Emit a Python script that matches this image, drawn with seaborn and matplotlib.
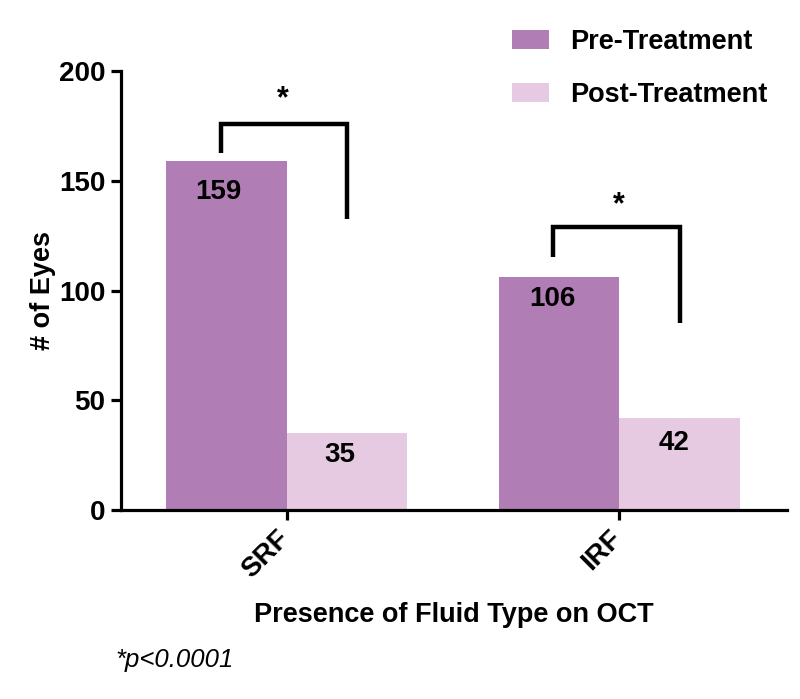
import pandas as pd
import numpy as np
import matplotlib
matplotlib.use("Agg")
import matplotlib.pyplot as plt
import matplotlib.transforms as mtransforms
import seaborn as sns

fluid_types = ["SRF", "IRF"]
groups = ["Pre-Treatment", "Post-Treatment"]
pre_treatment = [159, 106]
post_treatment = [35, 42]
y_ticks = [0, 50, 100, 150, 200]

PRE_COLOR = "#B07EB5"
POST_COLOR = "#E6CAE2"

df = pd.DataFrame({
    "Fluid": fluid_types * 2,
    "Group": [groups[0]] * 2 + [groups[1]] * 2,
    "Eyes": pre_treatment + post_treatment,
})

sns.set_style("ticks")
plt.rcParams["font.family"] = ["Liberation Sans", "DejaVu Sans"]
plt.rcParams["font.weight"] = "bold"
plt.rcParams["text.color"] = "black"
plt.rcParams["axes.labelcolor"] = "black"
plt.rcParams["xtick.color"] = "black"
plt.rcParams["ytick.color"] = "black"
plt.rcParams["axes.edgecolor"] = "black"

fig = plt.figure(figsize=(8, 6.99), dpi=100)
ax = fig.add_axes([0.151, 0.2704, 0.833, 0.628])

sns.barplot(data=df, x="Fluid", y="Eyes", hue="Group",
            palette=[PRE_COLOR, POST_COLOR], saturation=1,
            width=0.725, ax=ax, legend=True, linewidth=0,
            edgecolor="none")

# value labels inside bars
label_offsets = [(-0.205, 145), (0.16, 25), (-0.2, 96), (0.166, 30.5)]
values = [pre_treatment[0], post_treatment[0], pre_treatment[1], post_treatment[1]]
centers = [0, 0, 1, 1]
for c, (dx, y), v in zip(centers, label_offsets, values):
    ax.text(c + dx, y, str(v), ha="center", va="center",
            fontsize=20, fontweight="bold")

# significance brackets
brackets = [
    # x_left, x_right, y_top, y_left_bottom, y_right_bottom, star_x, star_y
    (-0.199, 0.181, 176, 162.6, 132.6, -0.012, 187),
    (0.801, 1.184, 129, 115.3, 85.2, 1.0, 139),
]
for xl, xr, yt, ylb, yrb, sx, sy in brackets:
    ax.plot([xl, xl, xr, xr], [ylb, yt, yt, yrb], color="black",
            lw=3.2, solid_joinstyle="miter", solid_capstyle="butt")
    ax.text(sx, sy, "*", ha="center", va="center", fontsize=22,
            fontweight="bold")

ax.set_xlim(-0.5, 1.506)
ax.set_ylim(0, 200)
ax.set_yticks(y_ticks)
sns.despine(ax=ax)
for s in ["left", "bottom"]:
    ax.spines[s].set_linewidth(2.3)
ax.tick_params(axis="both", width=2.3, length=7, labelsize=20, pad=4,
               bottom=True, left=True)
shift = mtransforms.ScaledTranslation(8 / 100, 0, fig.dpi_scale_trans)
for lbl in ax.get_xticklabels():
    lbl.set_rotation(45)
    lbl.set_ha("right")
    lbl.set_fontweight("bold")
    lbl.set_transform(lbl.get_transform() + shift)
plt.setp(ax.get_yticklabels(), fontweight="bold")

ax.set_xlabel("Presence of Fluid Type on OCT", fontsize=19.5,
              fontweight="bold", labelpad=14)
ax.set_ylabel("# of Eyes", fontsize=19.5, fontweight="bold", labelpad=2)

handles, labels = ax.get_legend_handles_labels()
ax.legend(handles, labels, loc="upper left",
          bbox_to_anchor=(512 / 800, 1 - 29 / 699),
          bbox_transform=fig.transFigure, frameon=False,
          fontsize=19.5, borderpad=0, borderaxespad=0,
          handlelength=1.35, handleheight=0.7, handletextpad=0.8,
          labelspacing=1.0)

fig.text(115 / 800, 1 - 660 / 699, "*p<0.0001", fontsize=18.5,
         fontstyle="italic", fontweight="normal", va="center")

fig.savefig("out.png", dpi=100)
